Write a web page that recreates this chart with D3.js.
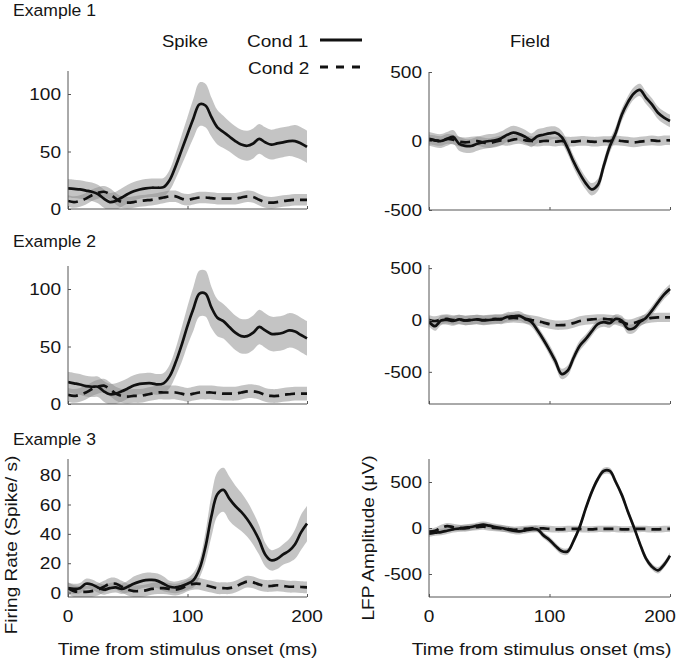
<!DOCTYPE html>
<html>
<head>
<meta charset="utf-8">
<script src="https://cdn.jsdelivr.net/npm/d3@7"></script>
<style>
  html, body { margin: 0; padding: 0; background: #fff; }
  svg { display: block; }
  text { font-family: "Liberation Sans", Arial, sans-serif; fill: #151515; }
</style>
</head>
<body>
<svg id="chart" width="679" height="660"></svg>
<script>
// ---------------- DATA ----------------
const times = [0,5,10,15,20,25,30,35,40,45,50,55,60,65,70,75,80,85,90,95,100,105,110,115,120,125,130,135,140,145,150,155,160,165,170,175,180,185,190,195,200];

const exampleLabels = ["Example 1", "Example 2", "Example 3"];
const columnTitles = ["Spike", "Field"];
const legendLabels = ["Cond 1", "Cond 2"];
const xTickValues = [0, 100, 200];
const spikeTicksA = [0, 50, 100];
const spikeTicksB = [0, 20, 40, 60, 80];
const fieldTicks = [-500, 0, 500];
const xAxisTitle = "Time from stimulus onset (ms)";
const spikeAxisTitle = "Firing Rate (Spike/ s)";
const fieldAxisTitle = "LFP Amplitude (\u03bcV)";

// Example 1 - spike
const ex1SpikeC1 = [18,17.5,17,16,15,13,9,6,7,10,13,15.5,17,18,18.5,18.5,19,25,37,51,65,79,91,90,80,71,67,63,59,56,55,57,61,58,56,57,58,59,59,57,54];
const ex1SpikeC1Sem = [8,8,8,8,8,8,8,8,8,8,8,8,8,8,8,8,8,9,11,13,15,17,19,19,17,15,14,13,13,13,13,13,13,13,13,13,13,13,14,14,14];
const ex1SpikeC2 = [7,6,7,9,12,14,15,13,9,6,5.5,6,7,7.5,8,9,10,11,11,9,8,9,10,10,9.5,9,9,9,9,10,11,10.5,8,6,5.5,6,7,7.5,8,8,8];
const ex1SpikeC2Sem = [5,5,5,5,5,5,5,5,5,5,5,5,5,5,5,5,5,5,5,5,5,5,5,5,5,5,5,5,5,5,5,5,5,5,5,5,5,5,5,5,5];
// Example 1 - field
const ex1FieldC1 = [15,5,0,15,30,-20,-35,-36,-20,-8,0,5,20,45,60,50,30,5,35,45,55,60,30,-50,-150,-235,-305,-350,-320,-180,-40,60,190,280,345,370,315,265,205,170,145];
const ex1FieldC1Sem = [50,50,50,50,50,50,50,50,50,50,50,50,50,50,50,50,50,50,50,50,50,45,45,45,45,45,45,45,45,45,45,45,45,45,45,45,45,45,45,45,45];
const ex1FieldC2 = [10,5,0,15,10,-5,-10,-5,0,-10,-15,-5,5,0,10,15,5,0,-5,0,0,-5,0,-5,-5,0,0,-5,-5,0,0,5,0,-5,-10,-5,0,5,0,5,5];
const ex1FieldC2Sem = [35,35,35,35,35,35,35,35,35,35,35,35,35,35,35,35,35,35,35,35,35,35,35,35,35,35,35,35,35,35,35,35,35,35,35,35,35,35,35,35,35];
// Example 2 - spike
const ex2SpikeC1 = [19,18,17,15.5,15,15,11,8.5,9,11,13.5,16,17.5,18,18,17,18,24,36,51,68,83,96,96,84,75,72,67,62,59,59,62,67,64,61,61,62,64,63,60,57];
const ex2SpikeC1Sem = [9,9,9,9,9,9,9,9,9,9,9,9,9,9,9,9,9,10,12,15,17,19,20,20,18,16,15,15,15,15,15,15,15,15,15,15,15,15,15,15,15];
const ex2SpikeC2 = [8,7,8,10,13,15,16,13,9,7,6.5,7,7,8,9,10,10,10,10,9,8,9,10,10,10,9.5,9,9,9,10,11,11,10,8,7,7,8,8.5,9,9,9];
const ex2SpikeC2Sem = [6,6,6,6,6,6,6,6,6,6,6,6,6,6,6,6,6,6,6,6,6,6,6,6,6,6,6,6,6,6,6,6,6,6,6,6,6,6,6,6,6];
// Example 2 - field
const ex2FieldC1 = [-16,-60,-5,0,-10,5,-5,0,5,-5,0,5,10,30,35,40,10,-20,-100,-190,-290,-400,-520,-490,-364,-250,-185,-110,-40,-20,-30,10,-5,-85,-80,-20,20,90,170,245,300];
const ex2FieldC1Sem = [45,45,45,45,45,45,45,45,45,45,45,45,45,45,45,45,45,45,45,45,50,50,50,50,50,50,45,45,45,45,45,45,45,45,45,45,45,45,45,45,45];
const ex2FieldC2 = [0,-10,5,10,0,5,-5,0,5,0,5,10,5,15,20,15,10,0,-10,-25,-40,-50,-50,-45,-30,-10,0,5,10,10,5,0,-20,-40,-30,-10,10,20,25,25,25];
const ex2FieldC2Sem = [45,45,45,45,45,45,45,45,45,45,45,45,45,45,45,45,45,45,45,45,45,45,45,45,45,45,45,45,45,45,45,45,45,45,45,45,45,45,45,45,45];
// Example 3 - spike
const ex3SpikeC1 = [3,2.5,3,6,5.5,3.5,2,3,3.5,2.5,4,6,7.5,8.5,8.6,8,6,4,3.5,4.5,6,8.5,16,31,52,67,70,64,59,55,50,43.6,35.7,26,22,23,26,28.5,33,41,47];
const ex3SpikeC1Sem = [3.5,3.5,3.5,3.5,3.5,3.5,3.5,3.5,3.5,3.5,4,5,5,5,5,5,5,4,4,4,4,5,6,10,14,15,15,15,14,13,12,11,10,8,7,7,7,8,10,12,12];
const ex3SpikeC2 = [3,1,0.5,0.5,1,2,4,6,6,4,2,1,1,1.5,2.5,3,3,2.5,2,3,5,6,6,5,4,3,3,3,4,6,7.5,7,5.5,4.5,4.5,5,4.5,4,4,3.8,3.6];
const ex3SpikeC2Sem = [4,4,4,4,4,4,4,4,4,4,4,4,4,4,4,4,4,4,4,4,4,4,4,4,4,4,4,4,4,4,4,4,4,4,4,4,4,4,4,4,4];
// Example 3 - field
const ex3FieldC1 = [-62,-50,-44,-30,-15,-5,5,11,25,36,25,11,0,-15,-30,-36,-25,-15,-15,-80,-130,-195,-250,-255,-140,10,210,390,530,620,620,500,360,180,10,-170,-330,-420,-460,-400,-300];
const ex3FieldC1Sem = [35,35,35,35,35,35,35,35,35,35,35,35,35,35,35,35,35,35,35,35,35,35,35,35,35,35,35,35,35,35,35,35,35,35,35,35,35,35,35,35,35];
const ex3FieldC2 = [-40,-30,0,20,10,0,-5,5,10,15,5,0,-5,-10,-20,-15,-10,-5,-5,-5,-10,-15,-15,-10,-10,-10,-15,-15,-10,-10,-10,-10,-15,-15,-10,-10,-10,-15,-15,-10,-10];
const ex3FieldC2Sem = [35,35,35,35,35,35,35,35,35,35,35,35,35,35,35,35,35,35,35,35,35,35,35,35,35,35,35,35,35,35,35,35,35,35,35,35,35,35,35,35,35];

// ---------------- LAYOUT ----------------
const svg = d3.select("#chart");
const SX = 1.12; // horizontal text stretch

function label(x, y, s, size, anchor, rot, dy) {
  const t = svg.append("text")
    .attr("transform", `translate(${x},${y}) rotate(${rot || 0}) scale(${SX},1)`)
    .attr("font-size", size)
    .attr("text-anchor", anchor || "start")
    .text(s);
  if (dy) t.attr("dy", dy);
  return t;
}

const leftX = [68, 307], rightX = [429, 670];
const panels = [
  { xr: leftX,  yr: [209, 71],  dom: [0, 120],    ticks: spikeTicksA, c1: ex1SpikeC1, s1: ex1SpikeC1Sem, c2: ex1SpikeC2, s2: ex1SpikeC2Sem, xlab: false },
  { xr: rightX, yr: [210, 72],  dom: [-500, 500], ticks: fieldTicks,  c1: ex1FieldC1, s1: ex1FieldC1Sem, c2: ex1FieldC2, s2: ex1FieldC2Sem, xlab: false },
  { xr: leftX,  yr: [404, 266], dom: [0, 120],    ticks: spikeTicksA, c1: ex2SpikeC1, s1: ex2SpikeC1Sem, c2: ex2SpikeC2, s2: ex2SpikeC2Sem, xlab: false },
  { xr: rightX, yr: [404, 265], dom: [-810, 530], ticks: fieldTicks,  c1: ex2FieldC1, s1: ex2FieldC1Sem, c2: ex2FieldC2, s2: ex2FieldC2Sem, xlab: false },
  { xr: leftX,  yr: [597, 459], dom: [-3, 91],    ticks: spikeTicksB, c1: ex3SpikeC1, s1: ex3SpikeC1Sem, c2: ex3SpikeC2, s2: ex3SpikeC2Sem, xlab: true },
  { xr: rightX, yr: [597, 459], dom: [-750, 750], ticks: fieldTicks,  c1: ex3FieldC1, s1: ex3FieldC1Sem, c2: ex3FieldC2, s2: ex3FieldC2Sem, xlab: true }
];

const defs = svg.append("defs");

panels.forEach((p, i) => {
  const x = d3.scaleLinear().domain([0, 200]).range(p.xr);
  const y = d3.scaleLinear().domain(p.dom).range(p.yr);
  const g = svg.append("g");

  const clipId = "clip" + i;
  defs.append("clipPath").attr("id", clipId)
    .append("rect")
    .attr("x", p.xr[0]).attr("y", p.yr[1] - 2)
    .attr("width", p.xr[1] - p.xr[0] + 1)
    .attr("height", p.yr[0] - p.yr[1] + 2);

  const plot = g.append("g").attr("clip-path", `url(#${clipId})`);

  const area = (vals, sem) => d3.area()
    .x((d, k) => x(times[k]))
    .y0((d, k) => y(vals[k] - sem[k]))
    .y1((d, k) => y(vals[k] + sem[k]))
    .curve(d3.curveCatmullRom)(vals);
  const line = (vals) => d3.line()
    .x((d, k) => x(times[k]))
    .y((d, k) => y(vals[k]))
    .curve(d3.curveCatmullRom)(vals);

  plot.append("path").attr("d", area(p.c2, p.s2)).attr("fill", "#8a8a8a").attr("fill-opacity", 0.5);
  plot.append("path").attr("d", area(p.c1, p.s1)).attr("fill", "#8a8a8a").attr("fill-opacity", 0.5);
  plot.append("path").attr("d", line(p.c2)).attr("fill", "none").attr("stroke", "#111")
    .attr("stroke-width", 2.7).attr("stroke-dasharray", "10,6");
  plot.append("path").attr("d", line(p.c1)).attr("fill", "none").attr("stroke", "#111")
    .attr("stroke-width", 2.7);

  // axes
  const xAxis = d3.axisBottom(x).tickValues(xTickValues).tickSize(-3).tickFormat(p.xlab ? d3.format("d") : "");
  const gx = g.append("g").attr("transform", `translate(0,${p.yr[0]})`).call(xAxis);
  const yAxis = d3.axisLeft(y).tickValues(p.ticks).tickSize(-3).tickFormat(d3.format("d"));
  const gy = g.append("g").attr("transform", `translate(${p.xr[0]},0)`).call(yAxis);

  [gx, gy].forEach(a => {
    a.select(".domain").attr("stroke", "#555").attr("stroke-width", 1)
      .attr("d", a === gx ? `M${p.xr[0]},0H${p.xr[1]}` : `M0,${p.yr[1]}V${p.yr[0]}`);
    a.selectAll(".tick line").attr("stroke", "#555");
    a.selectAll(".tick text").remove();
  });

  // tick labels (stretched text)
  p.ticks.forEach(v => label(p.xr[0] - 7, y(v), String(v), 17, "end", 0, "0.36em"));
  if (p.xlab) {
    xTickValues.forEach(v => {
      const xp = (i === 5 && v === 200) ? x(v) - 10 : x(v);
      label(xp, 622, String(v), 17, "middle");
    });
    label((p.xr[0] + p.xr[1]) / 2 + (i === 5 ? -8 : 0), 655, xAxisTitle, 17.3, "middle");
  }
});

// example labels
label(13, 16, exampleLabels[0], 15.7, "start");
label(13, 247, exampleLabels[1], 15.7, "start");
label(13, 445, exampleLabels[2], 15.7, "start");

// column titles
label(185, 47, columnTitles[0], 16.5, "middle");
label(530, 47, columnTitles[1], 16.5, "middle");

// y axis titles
label(17, 545, spikeAxisTitle, 17, "middle", -90);
label(374, 538, fieldAxisTitle, 17, "middle", -90);

// legend
label(247, 47, legendLabels[0], 17, "start");
label(248, 74, legendLabels[1], 17, "start");
svg.append("line").attr("x1", 320).attr("x2", 362).attr("y1", 40).attr("y2", 40)
  .attr("stroke", "#111").attr("stroke-width", 3);
svg.append("line").attr("x1", 320).attr("x2", 362).attr("y1", 67).attr("y2", 67)
  .attr("stroke", "#111").attr("stroke-width", 3).attr("stroke-dasharray", "8,8");
</script>
</body>
</html>
